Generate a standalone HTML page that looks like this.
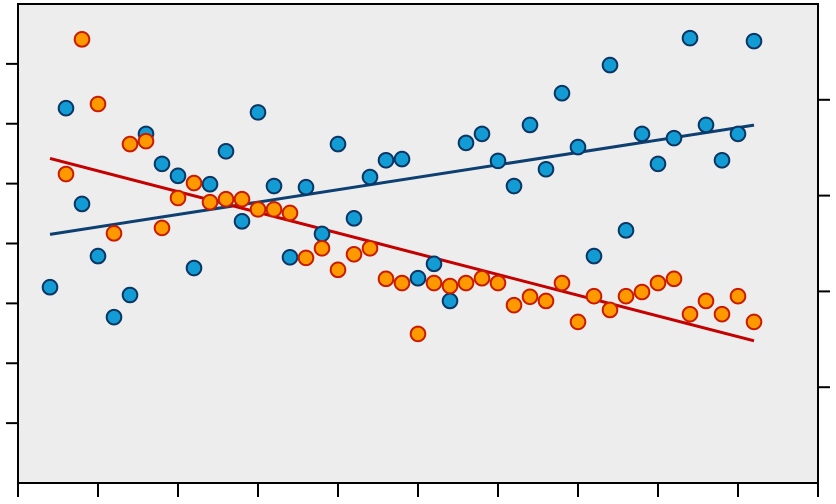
<!DOCTYPE html>
<html><head><meta charset="utf-8"><style>html,body{margin:0;padding:0;background:#fff;}svg{display:block;font-family:"Liberation Sans",sans-serif;}</style></head>
<body>
<svg id="chart" width="836" height="504" viewBox="0 0 836 504" xmlns="http://www.w3.org/2000/svg">
<rect x="18" y="4" width="800" height="479" fill="#ededed"/>
<g id="axes"></g>
<g id="lines"></g>
<g id="marks"></g>
<rect x="18" y="4" width="800" height="479" fill="none" stroke="#000" stroke-width="2"/>
</svg>
<script>
const xStart = 0.4;
const xStep = 0.2;
const blueValues = [3.27,6.26,4.66,3.79,2.77,3.14,5.83,5.33,5.13,3.59,4.99,5.54,4.37,6.19,4.96,3.77,4.94,4.16,5.66,4.42,5.11,5.39,5.41,3.42,3.66,3.04,5.68,5.83,5.38,4.96,5.98,5.24,6.51,5.61,3.79,6.98,4.22,5.83,5.33,5.76,7.43,5.98,5.39,5.83,7.38];
const orangeValues = [null,5.16,7.41,6.33,4.17,5.66,5.71,4.26,4.76,5.01,4.69,4.74,4.74,4.57,4.57,4.51,3.76,3.92,3.56,3.82,3.92,3.41,3.34,2.49,3.34,3.29,3.34,3.42,3.34,2.97,3.11,3.04,3.34,2.69,3.12,2.89,3.12,3.19,3.34,3.41,2.82,3.04,2.82,3.12,2.69];
const xTicks = [0,1,2,3,4,5,6,7,8,9,10];
const yLeftTicks = [1,2,3,4,5,6,7];
const yRightTicks = [1,2,3,4];

const NS = "http://www.w3.org/2000/svg";
const X0=18, X1=818, Y0=483, Y1=4;
function xs(v){return X0 + (v/10)*(X1-X0);}
function ys(v){return Y0 - (v/8)*(Y0-Y1);}
function yr(v){return Y0 - (v/5)*(Y0-Y1);}
function mk(tag, attrs, parent){const e=document.createElementNS(NS,tag);for(const k in attrs)e.setAttribute(k,attrs[k]);parent.appendChild(e);return e;}

const axes=document.getElementById('axes');
xTicks.forEach(t=>{
  const l=mk('line',{x1:xs(t),x2:xs(t),y1:Y0,y2:Y0+14,stroke:'#000','stroke-width':2},axes);
  
  
});
yLeftTicks.forEach(t=>{
  const l=mk('line',{x1:X0-12,x2:X0,y1:ys(t),y2:ys(t),stroke:'#000','stroke-width':2},axes);
  
  
});
yRightTicks.forEach(t=>{
  const l=mk('line',{x1:X1,x2:X1+12,y1:yr(t),y2:yr(t),stroke:'#000','stroke-width':2},axes);
  
  
});

function fit(vals){
  let n=0,sx=0,sy=0,sxx=0,sxy=0;
  vals.forEach((v,i)=>{if(v==null)return;const x=xStart+i*xStep;n++;sx+=x;sy+=v;sxx+=x*x;sxy+=x*v;});
  const b=(n*sxy-sx*sy)/(n*sxx-sx*sx);const a=(sy-b*sx)/n;return [a,b];
}
const linesG=document.getElementById('lines');
function trend(vals,color,name){
  const [a,b]=fit(vals);
  const xa=xStart, xb=xStart+(vals.length-1)*xStep;
  const l=mk('line',{x1:xs(xa),y1:ys(a+b*xa),x2:xs(xb),y2:ys(a+b*xb),stroke:color,'stroke-width':3},linesG);
  
  
}
const marks=document.getElementById('marks');
function points(vals,fill,stroke,name){
  vals.forEach((v,i)=>{
    if(v==null)return;
    const c=mk('circle',{cx:xs(xStart+i*xStep),cy:ys(v),r:7.3,fill:fill,stroke:stroke,'stroke-width':2},marks);
    
    
  });
}
points(blueValues,'#139bd4','#0b3563','blue-point');
points(orangeValues,'#ff9900','#cc1a00','orange-point');
trend(blueValues,'#0d3f70','blue-trend-line');
trend(orangeValues,'#c40000','orange-trend-line');
</script>
</body></html>
